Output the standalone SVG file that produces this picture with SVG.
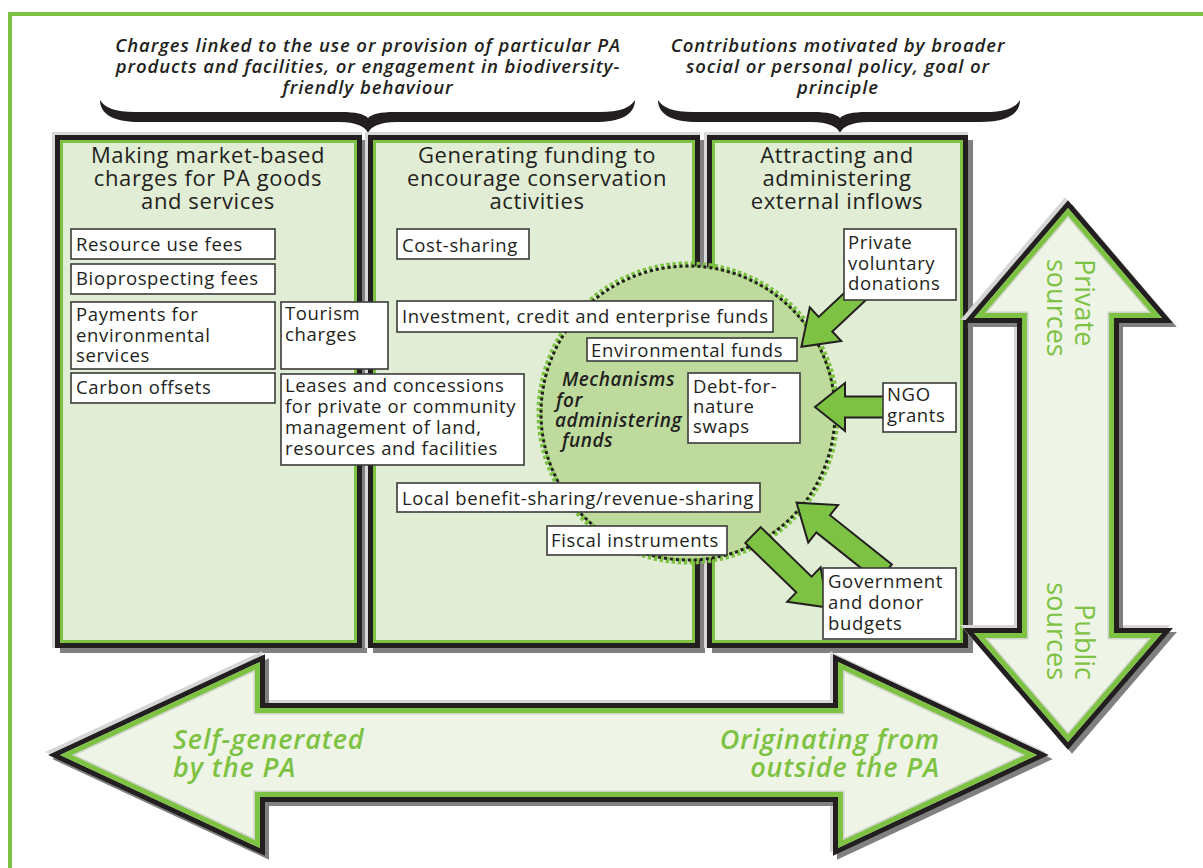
<svg xmlns="http://www.w3.org/2000/svg" xmlns:xlink="http://www.w3.org/1999/xlink" width="1203" height="868" viewBox="0 0 1203 868">
<style>
.ttl{font-family:"Open Sans","Liberation Sans",sans-serif;font-size:22px;letter-spacing:0.6px;fill:#231f20;text-anchor:middle}
.top{font-family:"Open Sans","Liberation Sans",sans-serif;font-size:18.5px;letter-spacing:0.9px;font-style:italic;font-weight:600;fill:#231f20;text-anchor:middle}
.it{font-family:"Open Sans","Liberation Sans",sans-serif;font-size:18.5px;letter-spacing:0.65px;fill:#231f20}
.box{fill:#fff;stroke:#3a3a3a;stroke-width:1.6}
.mech{font-family:"Open Sans","Liberation Sans",sans-serif;font-size:19px;letter-spacing:0.5px;font-style:italic;font-weight:600;fill:#231f20}
.big{font-family:"Open Sans","Liberation Sans",sans-serif;font-size:27px;letter-spacing:0.9px;font-style:italic;font-weight:600;fill:#7dc242}
.vt{font-family:"Open Sans","Liberation Sans",sans-serif;font-size:27px;fill:#7dc242}
.garrow{fill:#7dc242;stroke:#231f20;stroke-width:2;stroke-linejoin:miter}
</style>
<defs>
<polygon id="harrow" points="60,755 260,662 260,708 838,708 838,662 1037,755 838,848 838,797 260,797 260,848"/>
<polygon id="varrow" points="1068,208 1162,318 1114,318 1114,633 1162,633 1068,742 974,633 1022,633 1022,318 974,318"/>
<clipPath id="hclip"><use xlink:href="#harrow"/></clipPath>
<clipPath id="vclip"><use xlink:href="#varrow"/></clipPath>
</defs>
<rect x="0" y="0" width="1203" height="868" fill="#fff"/>
<rect id="frame" x="10" y="14" width="1220" height="900" fill="none" stroke="#7dc242" stroke-width="4"/>

<g id="label-charges">
<text class="top" x="368" y="52">Charges linked to the use or provision of particular PA</text>
<text class="top" x="368" y="73">products and facilities, or engagement in biodiversity-</text>
<text class="top" x="368" y="94">friendly behaviour</text>
<path d="M100,100 C100,115 115,122 140,122 L340,122 C355,122 365,126 368,133 C371,126 381,122 396,122 L595,122 C620,122 635,115 635,100 C630,108 620,112 600,112 L395,112 C380,112 372,114 368,118 C364,114 356,112 341,112 L135,112 C115,112 105,108 100,100 Z" fill="#231f20"/>
</g>
<g id="label-contributions">
<text class="top" x="838" y="52">Contributions motivated by broader</text>
<text class="top" x="838" y="73">social or personal policy, goal or</text>
<text class="top" x="838" y="94">principle</text>
<path d="M658,100 C658,115 673,122 698,122 L812,122 C827,122 837,126 840,133 C843,126 853,122 868,122 L980,122 C1005,122 1020,115 1020,100 C1015,108 1005,112 985,112 L867,112 C852,112 844,114 840,118 C836,114 828,112 813,112 L693,112 C673,112 663,108 658,100 Z" fill="#231f20"/>
</g>

<g id="panel-market">
<rect x="52" y="132" width="310" height="516" fill="#d8d8d8"/>
<rect x="60" y="140" width="307" height="513" fill="#808080"/>
<rect x="55" y="135" width="307" height="513" fill="#231f20"/>
<rect x="60" y="140" width="297" height="503" fill="#7dc242"/>
<rect x="63" y="143" width="291" height="497" fill="#e1edd5"/>
<text class="ttl" x="208" y="163">Making market-based</text>
<text class="ttl" x="208" y="186">charges for PA goods</text>
<text class="ttl" x="208" y="209">and services</text>
</g>
<g id="panel-generating">
<rect x="365" y="132" width="335" height="516" fill="#d8d8d8"/>
<rect x="373" y="140" width="332" height="513" fill="#808080"/>
<rect x="368" y="135" width="332" height="513" fill="#231f20"/>
<rect x="373" y="140" width="322" height="503" fill="#7dc242"/>
<rect x="376" y="143" width="316" height="497" fill="#e1edd5"/>
<text class="ttl" x="537" y="163">Generating funding to</text>
<text class="ttl" x="537" y="186">encourage conservation</text>
<text class="ttl" x="537" y="209">activities</text>
</g>
<g id="panel-attracting">
<rect x="704" y="132" width="264" height="516" fill="#d8d8d8"/>
<rect x="712" y="140" width="261" height="513" fill="#808080"/>
<rect x="707" y="135" width="261" height="513" fill="#231f20"/>
<rect x="712" y="140" width="251" height="503" fill="#7dc242"/>
<rect x="715" y="143" width="245" height="497" fill="#e1edd5"/>
<text class="ttl" x="837" y="163">Attracting and</text>
<text class="ttl" x="837" y="186">administering</text>
<text class="ttl" x="837" y="209">external inflows</text>
</g>

<g id="mechanisms">
<circle cx="688" cy="413" r="147" fill="#bedb9d"/>
<circle cx="688" cy="413" r="148.5" fill="none" stroke="#7dc242" stroke-width="6" stroke-dasharray="3.5 2.5"/>
<circle cx="688" cy="413" r="147" fill="none" stroke="#231f20" stroke-width="3" stroke-dasharray="3 3"/>
<text class="mech" x="562" y="386">Mechanisms</text>
<text class="mech" x="556" y="407">for</text>
<text class="mech" x="555" y="427">administering</text>
<text class="mech" x="562" y="447">funds</text>
</g>

<g id="connectors">
<polygon class="garrow" transform="translate(862,290) rotate(136.9)" points="0,-10 50,-10 50,-23 83,0 50,23 50,10 0,10"/>
<polygon class="garrow" transform="translate(886,407) rotate(180)" points="0,-10.5 41,-10.5 41,-24 71,0 41,24 41,10.5 0,10.5"/>
<polygon class="garrow" transform="translate(885,573) rotate(218.5)" points="0,-11 79,-11 79,-24 113,0 79,24 79,11 0,11"/>
<polygon class="garrow" transform="translate(753,535) rotate(44.2)" points="0,-11 71,-11 71,-24 104,0 71,24 71,11 0,11"/>
</g>

<g id="item-resource"><rect class="box" x="71" y="229" width="204" height="30"/><text class="it" x="76" y="251">Resource use fees</text></g>
<g id="item-bioprospecting"><rect class="box" x="71" y="264" width="204" height="30"/><text class="it" x="76" y="285">Bioprospecting fees</text></g>
<g id="item-payments"><rect class="box" x="71" y="302" width="204" height="67"/><text class="it" x="76" y="321">Payments for</text><text class="it" x="76" y="342">environmental</text><text class="it" x="76" y="362">services</text></g>
<g id="item-carbon"><rect class="box" x="71" y="373" width="204" height="30"/><text class="it" x="76" y="394">Carbon offsets</text></g>
<g id="item-tourism"><rect class="box" x="281" y="302" width="107" height="67"/><text class="it" x="285" y="320">Tourism</text><text class="it" x="285" y="341">charges</text></g>
<g id="item-leases"><rect class="box" x="281" y="374" width="243" height="91"/><text class="it" x="285" y="392">Leases and concessions</text><text class="it" x="285" y="413">for private or community</text><text class="it" x="285" y="434">management of land,</text><text class="it" x="285" y="455">resources and facilities</text></g>
<g id="item-cost"><rect class="box" x="397" y="229" width="132" height="30"/><text class="it" x="402" y="252">Cost-sharing</text></g>
<g id="item-investment"><rect class="box" x="397" y="301" width="376" height="31"/><text class="it" x="402" y="323">Investment, credit and enterprise funds</text></g>
<g id="item-environmental"><rect class="box" x="587" y="338" width="210" height="23"/><text class="it" x="591" y="357">Environmental funds</text></g>
<g id="item-debt"><rect class="box" x="688" y="373" width="112" height="70"/><text class="it" x="693" y="393">Debt-for-</text><text class="it" x="693" y="413">nature</text><text class="it" x="693" y="433">swaps</text></g>
<g id="item-local"><rect class="box" x="397" y="483" width="363" height="29"/><text class="it" x="402" y="505">Local benefit-sharing/revenue-sharing</text></g>
<g id="item-fiscal"><rect class="box" x="547" y="526" width="180" height="29"/><text class="it" x="551" y="547">Fiscal instruments</text></g>
<g id="item-private"><rect class="box" x="844" y="229" width="112" height="71"/><text class="it" x="848" y="249">Private</text><text class="it" x="848" y="270">voluntary</text><text class="it" x="848" y="290">donations</text></g>
<g id="item-ngo"><rect class="box" x="883" y="383" width="73" height="49"/><text class="it" x="887" y="401">NGO</text><text class="it" x="887" y="422">grants</text></g>
<g id="item-government"><rect class="box" x="823" y="568" width="133" height="71"/><text class="it" x="828" y="588">Government</text><text class="it" x="828" y="609">and donor</text><text class="it" x="828" y="630">budgets</text></g>

<g id="arrow-horizontal">
<use xlink:href="#harrow" transform="translate(-3,-3)" fill="#d6d6d6" stroke="#d6d6d6" stroke-width="10"/>
<use xlink:href="#harrow" transform="translate(4,4)" fill="#808080" stroke="#808080" stroke-width="10"/>
<use xlink:href="#harrow" fill="#eef4e6" stroke="#231f20" stroke-width="10"/>
<use xlink:href="#harrow" fill="none" stroke="#cfd3ca" stroke-width="13" clip-path="url(#hclip)"/>
<use xlink:href="#harrow" fill="none" stroke="#7dc242" stroke-width="10" clip-path="url(#hclip)"/>
<text class="big" x="173" y="749">Self-generated</text>
<text class="big" x="173" y="777">by the PA</text>
<text class="big" x="940" y="749" text-anchor="end">Originating from</text>
<text class="big" x="940" y="777" text-anchor="end">outside the PA</text>
</g>
<g id="arrow-vertical">
<use xlink:href="#varrow" transform="translate(-3,-3)" fill="#d6d6d6" stroke="#d6d6d6" stroke-width="10"/>
<use xlink:href="#varrow" transform="translate(4,4)" fill="#808080" stroke="#808080" stroke-width="10"/>
<use xlink:href="#varrow" fill="#eef4e6" stroke="#231f20" stroke-width="10"/>
<use xlink:href="#varrow" fill="none" stroke="#cfd3ca" stroke-width="13" clip-path="url(#vclip)"/>
<use xlink:href="#varrow" fill="none" stroke="#7dc242" stroke-width="10" clip-path="url(#vclip)"/>
<text class="vt" transform="translate(1075,259) rotate(90)">Private</text>
<text class="vt" transform="translate(1047,259) rotate(90)">sources</text>
<text class="vt" transform="translate(1075,680) rotate(90)" text-anchor="end">Public</text>
<text class="vt" transform="translate(1047,680) rotate(90)" text-anchor="end">sources</text>
</g>
</svg>
